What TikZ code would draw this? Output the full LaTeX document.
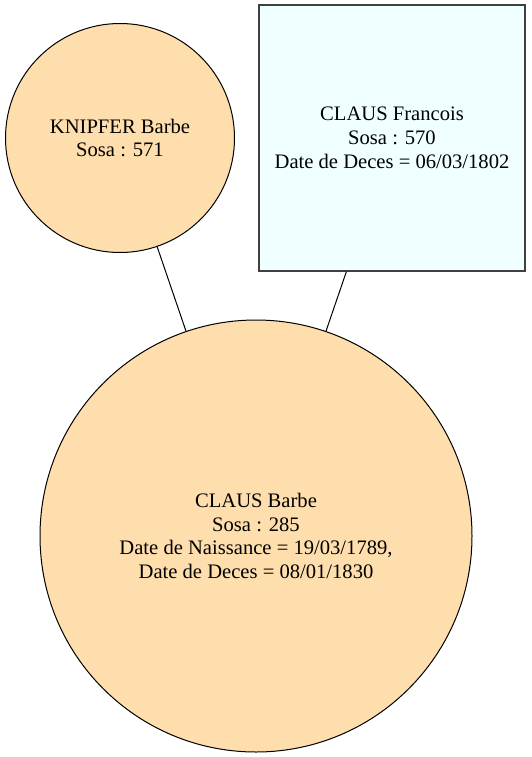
\documentclass[tikz,border=0pt]{standalone}
\usepackage{fontspec}
\setmainfont{Liberation Serif}
\definecolor{navajo}{HTML}{FFDEAD}
\definecolor{azurefill}{HTML}{F0FFFF}
\definecolor{rectborder}{HTML}{404040}
\begin{document}
\begin{tikzpicture}[x=1pt,y=-1pt,
  lbl/.style={font=\fontsize{20.6pt}{23.8pt}\selectfont, align=center, text=black},
  person/.style={circle, draw=black, line width=1pt, fill=navajo, inner sep=0pt, lbl},
  persbox/.style={rectangle, draw=rectborder, line width=1.3pt, fill=azurefill, inner sep=0pt, lbl},
  link/.style={draw=black, line width=1pt}]
\useasboundingbox (0,0) rectangle (531,757);
\node[person, minimum size=229pt] (knipfer) at (120,138) {KNIPFER Barbe\\Sosa : 571};
\node[persbox, minimum width=266pt, minimum height=266pt] (francois) at (392,138) {CLAUS Francois\\Sosa : 570\\Date de Deces = 06/03/1802};
\node[person, minimum size=432pt] (barbe) at (256,536) {CLAUS Barbe\\Sosa : 285\\Date de Naissance = 19/03/1789,\\Date de Deces = 08/01/1830};
\draw[link] (knipfer) -- (barbe);
\draw[link] (francois) -- (barbe);
\end{tikzpicture}
\end{document}
